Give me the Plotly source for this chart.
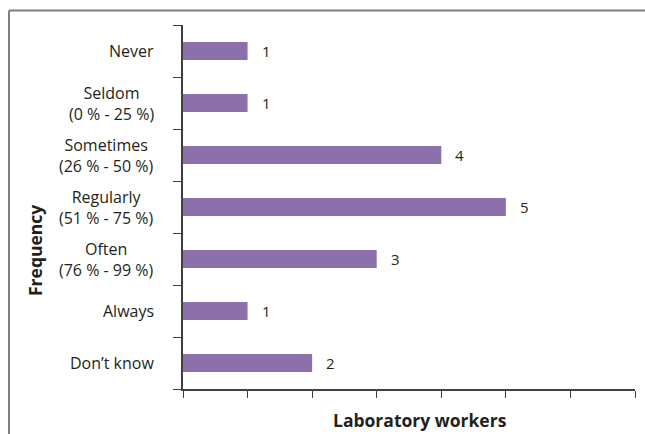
import plotly.graph_objects as go

# Frequency categories (top to bottom) and number of laboratory workers
categories = [
    "Never",
    "Seldom<br>(0 % - 25 %)",
    "Sometimes<br>(26 % - 50 %)",
    "Regularly<br>(51 % - 75 %)",
    "Often<br>(76 % - 99 %)",
    "Always",
    "Don\u2019t know",
]
workers = [1, 1, 4, 5, 3, 1, 2]

x_ticks = [0, 1, 2, 3, 4, 5, 6, 7]

FONT = "Open Sans, Lato, DejaVu Sans, sans-serif"
TEXT = "#231f20"
BAR = "#8b70aa"
AXIS = "#404040"

W, H = 645, 434
L, R, T, B = 183, 10, 25, 45
pw, ph = W - L - R, H - T - B


def px_x(px):
    return (px - L) / pw


def px_y(py):
    return (H - B - py) / ph


fig = go.Figure(
    go.Bar(
        x=workers,
        y=categories,
        orientation="h",
        marker=dict(color=BAR, line=dict(width=0)),
        width=0.35,
        hoverinfo="skip",
    )
)

# value labels to the right of each bar
for cat, v in zip(categories, workers):
    fig.add_annotation(
        x=v, xref="x", y=cat, yref="y",
        text=str(v), showarrow=False,
        xanchor="left", yanchor="middle", xshift=12,
        font=dict(family=FONT, size=15, color=TEXT),
    )

# category labels, centred on each line and right-aligned against the axis
for cat in categories:
    fig.add_annotation(
        x=0, xref="paper", y=cat, yref="y",
        text=cat, showarrow=False,
        xanchor="right", yanchor="middle", align="center",
        xshift=-27,
        font=dict(family=FONT, size=16, color=TEXT),
    )

# axis titles
fig.add_annotation(
    x=px_x(420), xref="paper", y=px_y(420), yref="paper",
    text="<b>Laboratory workers</b>", showarrow=False,
    xanchor="center", yanchor="middle",
    font=dict(family=FONT, size=17.5, color=TEXT),
)
fig.add_annotation(
    x=px_x(35), xref="paper", y=px_y(251), yref="paper",
    text="<b>Frequency</b>", showarrow=False, textangle=-90,
    xanchor="center", yanchor="middle",
    font=dict(family=FONT, size=17.5, color=TEXT),
)

# outer frame (left and top edges)
frame = dict(color="#7f7f7f", width=2)
fig.add_shape(type="line", xref="paper", yref="paper",
              x0=px_x(9), x1=px_x(W + 5), y0=px_y(10.5), y1=px_y(10.5), line=frame)
fig.add_shape(type="line", xref="paper", yref="paper",
              x0=px_x(9), x1=px_x(9), y0=px_y(10.5), y1=px_y(H + 5), line=frame)

fig.update_xaxes(
    range=[0, 7],
    tickvals=x_ticks,
    showticklabels=False,
    ticks="outside", ticklen=7, tickwidth=1, tickcolor=AXIS,
    showline=True, linecolor=AXIS, linewidth=1.5,
    showgrid=False, zeroline=False,
    fixedrange=True,
)
fig.update_yaxes(
    categoryorder="array",
    categoryarray=categories[::-1],
    range=[-0.5, len(categories) - 0.5],
    showticklabels=False,
    ticks="outside", ticklen=8, tickwidth=1, tickcolor=AXIS,
    tickson="boundaries",
    showline=True, linecolor=AXIS, linewidth=1.5,
    showgrid=False, zeroline=False,
    fixedrange=True,
)

fig.update_layout(
    width=W, height=H,
    margin=dict(l=L, r=R, t=T, b=B, pad=0),
    paper_bgcolor="white",
    plot_bgcolor="white",
    showlegend=False,
    bargap=0.65,
)

fig.write_html("out.html", config={"displayModeBar": False})
